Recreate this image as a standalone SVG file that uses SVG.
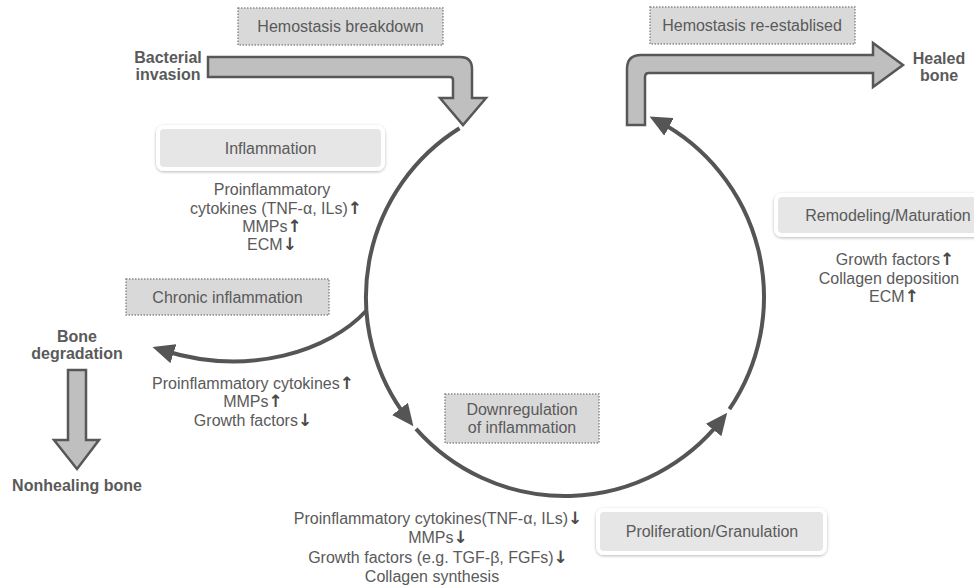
<svg xmlns="http://www.w3.org/2000/svg" width="974" height="588" viewBox="0 0 974 588">
<style>
  .t { font-family: "Liberation Sans", Arial, sans-serif; font-size: 16px; fill: #5a5a5a; text-anchor: middle; }
  .b { font-weight: bold; }
  .ar { font-family: "DejaVu Sans", sans-serif; font-weight: bold; font-size: 17px; fill: #4a4a4a; }
  .dot { fill: #d9d9d9; stroke: #8c8c8c; stroke-width: 1.5; stroke-dasharray: 1.5 1.5; }
  .rbox { fill: #e6e6e6; stroke: #ffffff; stroke-width: 4; filter: url(#sh); }
  .arc { fill: none; stroke: #555555; stroke-width: 4; marker-end: url(#ah); }
  .blk { fill: #bfbfbf; stroke: #575757; stroke-width: 2.5; stroke-linejoin: miter; }
</style>
<defs>
  <filter id="sh" x="-10%" y="-30%" width="120%" height="160%">
    <feDropShadow dx="0" dy="1" stdDeviation="1.5" flood-color="#000" flood-opacity="0.28"/>
  </filter>
  <marker id="ah" markerWidth="22" markerHeight="20" refX="12" refY="10" orient="auto" markerUnits="userSpaceOnUse">
    <path d="M0,0 L22,10 L0,20 Z" fill="#555555"/>
  </marker>
</defs>
<rect width="974" height="588" fill="#ffffff"/>

<g id="connectors">
  <path class="blk" d="M208,57 H460 Q472,57 472,69 V98 H486 L463,125 L440,98 H453 V80 Q453,77 450,77 H208 Z"/>
  <path class="blk" d="M627,125 V69 Q627,55 641,55 H873 V43 L903,65 L873,87 V73 H649 Q645,73 645,77 V125 Z"/>
  <path class="blk" d="M68,370 H86 V440 H99 L77,469 L54,440 H68 Z"/>
  <path class="arc" d="M459.5,128.2 A199,199 0 0 0 407.3,418.4"/>
  <path class="arc" d="M416,428.9 A199,199 0 0 0 721,420.6"/>
  <path class="arc" d="M729.4,409.1 A199,199 0 0 0 658.4,121.3"/>
  <path class="arc" d="M366,311 C330,350 250,378 162,350"/>
</g>

<g id="hemostasis-breakdown">
  <rect class="dot" x="238" y="8" width="205" height="37"/>
  <text class="t" x="340.5" y="32">Hemostasis breakdown</text>
</g>
<g id="hemostasis-reestablised">
  <rect class="dot" x="650" y="7" width="205" height="37"/>
  <text class="t" x="752" y="31">Hemostasis re-establised</text>
</g>
<g id="bacterial-invasion">
  <text class="t b" x="168" y="63">Bacterial</text>
  <text class="t b" x="168" y="80">invasion</text>
</g>
<g id="healed-bone">
  <text class="t b" x="939" y="64">Healed</text>
  <text class="t b" x="939" y="81">bone</text>
</g>
<g id="inflammation">
  <rect class="rbox" x="158" y="127" width="225" height="42" rx="6"/>
  <text class="t" x="270.5" y="154">Inflammation</text>
  <text class="t" x="272" y="195">Proinflammatory</text>
  <text class="t" x="276" y="214">cytokines (TNF-α, ILs)<tspan class="ar">↑</tspan></text>
  <text class="t" x="272" y="232">MMPs<tspan class="ar">↑</tspan></text>
  <text class="t" x="272" y="250">ECM<tspan class="ar">↓</tspan></text>
</g>
<g id="chronic-inflammation">
  <rect class="dot" x="126" y="279" width="203" height="36"/>
  <text class="t" x="227.5" y="303">Chronic inflammation</text>
  <text class="t" x="253" y="389">Proinflammatory cytokines<tspan class="ar">↑</tspan></text>
  <text class="t" x="253" y="407">MMPs<tspan class="ar">↑</tspan></text>
  <text class="t" x="253" y="426">Growth factors<tspan class="ar">↓</tspan></text>
</g>
<g id="bone-degradation">
  <text class="t b" x="77" y="342">Bone</text>
  <text class="t b" x="77" y="359">degradation</text>
</g>
<g id="nonhealing-bone">
  <text class="t b" x="77" y="491">Nonhealing bone</text>
</g>
<g id="remodeling">
  <rect class="rbox" x="776" y="195" width="220" height="40" rx="6"/>
  <text class="t" x="888" y="221">Remodeling/Maturation</text>
  <text class="t" x="895" y="265">Growth factors<tspan class="ar">↑</tspan></text>
  <text class="t" x="889" y="284">Collagen deposition</text>
  <text class="t" x="894" y="302">ECM<tspan class="ar">↑</tspan></text>
</g>
<g id="downregulation">
  <rect class="dot" x="445" y="394" width="154" height="49"/>
  <text class="t" x="522" y="415">Downregulation</text>
  <text class="t" x="522" y="433">of inflammation</text>
</g>
<g id="proliferation">
  <rect class="rbox" x="598" y="510" width="227" height="43" rx="6"/>
  <text class="t" x="712" y="537">Proliferation/Granulation</text>
  <text class="t" x="438" y="524">Proinflammatory cytokines(TNF-α, ILs)<tspan class="ar">↓</tspan></text>
  <text class="t" x="438" y="543">MMPs<tspan class="ar">↓</tspan></text>
  <text class="t" x="438" y="563">Growth factors (e.g. TGF-β, FGFs)<tspan class="ar">↓</tspan></text>
  <text class="t" x="432" y="582">Collagen synthesis</text>
</g>
</svg>
